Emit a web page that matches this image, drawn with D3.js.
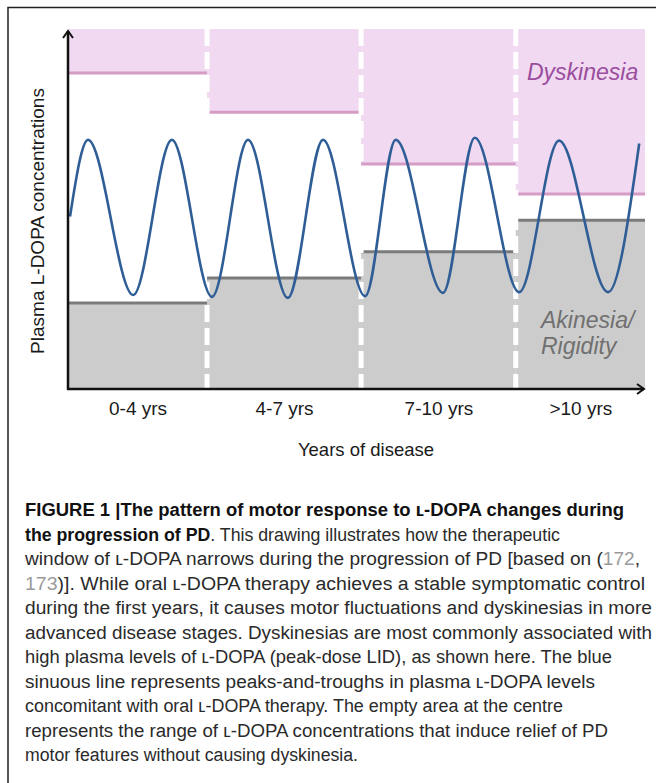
<!DOCTYPE html>
<html><head><meta charset="utf-8">
<script src="https://cdn.jsdelivr.net/npm/d3@7"></script>
<style>body{margin:0;background:#fff} svg{display:block}</style>
</head><body><svg id="chart" width="656" height="783"></svg>
<script>
// ---------- data ----------
const stages = ["0-4 yrs", "4-7 yrs", "7-10 yrs", ">10 yrs"];
const stageBounds = [0, 24.1, 50.8, 77.6, 100];           // time axis (arbitrary units)
const dyskinesiaThreshold = [87.8, 76.9, 62.5, 54.2];      // plasma level above which dyskinesia
const akinesiaThreshold = [23.9, 30.8, 38.1, 46.9];        // plasma level below which akinesia
const waveTime  = [0.35, 3.47, 11.3, 18.0, 24.96, 31.2, 38.1, 44.2, 51.5, 56.8, 65.0, 70.5, 78.2, 85.1, 93.6, 99.0];
const waveLevel = [47.9, 69.2, 26.1, 69.2, 25.6, 69.2, 25.3, 69.2, 25.8, 69.2, 26.7, 69.8, 26.9, 69.0, 26.9, 68.2];
const yAxisTitle = "Plasma L-DOPA concentrations";
const xAxisTitle = "Years of disease";
const captionLines = [
  [["FIGURE 1 |The pattern of motor response to ʟ-DOPA changes during", "b"]],
  [["the progression of PD", "b"], [". This drawing illustrates how the therapeutic", "n"]],
  [["window of ʟ-DOPA narrows during the progression of PD [based on (", "n"], ["172", "ref"], [",", "n"]],
  [["173", "ref"], [")]. While oral ʟ-DOPA therapy achieves a stable symptomatic control", "n"]],
  [["during the first years, it causes motor fluctuations and dyskinesias in more", "n"]],
  [["advanced disease stages. Dyskinesias are most commonly associated with", "n"]],
  [["high plasma levels of ʟ-DOPA (peak-dose LID), as shown here. The blue", "n"]],
  [["sinuous line represents peaks-and-troughs in plasma ʟ-DOPA levels", "n"]],
  [["concomitant with oral ʟ-DOPA therapy. The empty area at the centre", "n"]],
  [["represents the range of ʟ-DOPA concentrations that induce relief of PD", "n"]],
  [["motor features without causing dyskinesia.", "n"]]
];
// ---------- layout ----------
const captionRight = [624, 560, 640, 645, 652, 652, 612, 595, 563, 608, 358];
const FONT = "'Liberation Sans', Arial, Helvetica, 'DejaVu Sans', sans-serif";

const svg = d3.select("#chart");
const x = d3.scaleLinear().domain([0, 100]).range([68, 645]);
const y = d3.scaleLinear().domain([0, 100]).range([389, 29]);

// frame
svg.append("path").attr("d", "M8,783 L8,7.5 L656,7.5")
  .attr("fill", "none").attr("stroke", "#222").attr("stroke-width", 1.5);

const segs = stages.map((s, i) => ({ s, x0: stageBounds[i], x1: stageBounds[i + 1], dy: dyskinesiaThreshold[i], ak: akinesiaThreshold[i] }));

const g = svg.append("g");
// dyskinesia zones
g.selectAll("rect.dys").data(segs).join("rect").attr("class", "dys")
  .attr("x", d => x(d.x0)).attr("width", d => x(d.x1) - x(d.x0))
  .attr("y", y(100)).attr("height", d => y(d.dy) - y(100))
  .attr("fill", "#f0d9f1");
g.selectAll("line.dysl").data(segs).join("line").attr("class", "dysl")
  .attr("x1", d => x(d.x0)).attr("x2", d => x(d.x1))
  .attr("y1", d => y(d.dy)).attr("y2", d => y(d.dy))
  .attr("stroke", "#d59cc6").attr("stroke-width", 3);
// akinesia zones
g.selectAll("rect.ak").data(segs).join("rect").attr("class", "ak")
  .attr("x", d => x(d.x0)).attr("width", d => x(d.x1) - x(d.x0))
  .attr("y", d => y(d.ak)).attr("height", d => y(0) - y(d.ak))
  .attr("fill", "#cccccc");
g.selectAll("line.akl").data(segs).join("line").attr("class", "akl")
  .attr("x1", d => x(d.x0)).attr("x2", d => x(d.x1))
  .attr("y1", d => y(d.ak)).attr("y2", d => y(d.ak))
  .attr("stroke", "#7b7b7b").attr("stroke-width", 3);
// dashed separators
g.selectAll("line.sep").data(stageBounds.slice(1, -1)).join("line").attr("class", "sep")
  .attr("x1", d => x(d)).attr("x2", d => x(d))
  .attr("y1", y(100)).attr("y2", y(0))
  .attr("stroke", "#fff").attr("stroke-width", 5).attr("stroke-dasharray", "17,6");

// wave
const wave = waveTime.map((t, i) => [t, waveLevel[i]]);
g.append("path").datum(wave)
  .attr("d", d3.line().x(d => x(d[0])).y(d => y(d[1])).curve(d3.curveMonotoneX))
  .attr("fill", "none").attr("stroke", "#2f5e97").attr("stroke-width", 2.6);

// labels inside
g.append("text").attr("x", 527).attr("y", 80)
  .attr("font-family", FONT).attr("font-style", "italic").attr("font-size", 23)
  .attr("fill", "#9a4d9d").text("Dyskinesia");
g.append("text").attr("x", 541).attr("y", 328)
  .attr("font-family", FONT).attr("font-style", "italic").attr("font-size", 23)
  .attr("fill", "#707070").text("Akinesia/");
g.append("text").attr("x", 541).attr("y", 354)
  .attr("font-family", FONT).attr("font-style", "italic").attr("font-size", 23)
  .attr("fill", "#707070").text("Rigidity");

// axes lines with arrows
svg.append("line").attr("x1", x(0)).attr("x2", x(0)).attr("y1", y(0) + 1).attr("y2", 31)
  .attr("stroke", "#111").attr("stroke-width", 2.5);
svg.append("path").attr("d", `M${x(0) - 5},${38} L${x(0)},${31} L${x(0) + 5},${38}`)
  .attr("fill", "none").attr("stroke", "#111").attr("stroke-width", 2);
svg.append("line").attr("x1", x(0) - 1).attr("x2", 644).attr("y1", y(0)).attr("y2", y(0))
  .attr("stroke", "#111").attr("stroke-width", 2.5);
svg.append("path").attr("d", `M637,${y(0) - 5} L644,${y(0)} L637,${y(0) + 5}`)
  .attr("fill", "none").attr("stroke", "#111").attr("stroke-width", 2);

// x axis labels
const mids = segs.map(d => (d.x0 + d.x1) / 2);
const xAxis = d3.axisBottom(x).tickValues(mids).tickSize(0).tickPadding(0)
  .tickFormat((d, i) => stages[i]);
const ax = svg.append("g").attr("transform", `translate(0,${y(0)})`).call(xAxis);
ax.select(".domain").remove();
ax.selectAll("text").attr("font-family", FONT).attr("font-size", 19).attr("fill", "#1a1a1a")
  .attr("dy", null).attr("y", 26);

svg.append("text").attr("x", 366).attr("y", 456).attr("text-anchor", "middle")
  .attr("font-family", FONT).attr("font-size", 18.5).attr("fill", "#1a1a1a").text(xAxisTitle);
svg.append("text").attr("transform", "translate(43.5,221) rotate(-90)").attr("text-anchor", "middle")
  .attr("font-family", FONT).attr("font-size", 19).attr("fill", "#1a1a1a").text(yAxisTitle);

// caption
const cap = svg.append("g").attr("font-family", FONT).attr("font-size", 18.8);
captionLines.forEach((line, i) => {
  const t = cap.append("text").attr("x", 25).attr("y", 516 + i * 24.5)
    .attr("textLength", captionRight[i] - 25).attr("lengthAdjust", "spacingAndGlyphs");
  line.forEach(([txt, st]) => {
    const ts = t.append("tspan").text(txt);
    if (st === "b") ts.attr("font-weight", "bold").attr("fill", "#111");
    else if (st === "ref") ts.attr("fill", "#9a9a9a");
    else ts.attr("fill", "#2a2a2a");
  });
});
</script></body></html>
